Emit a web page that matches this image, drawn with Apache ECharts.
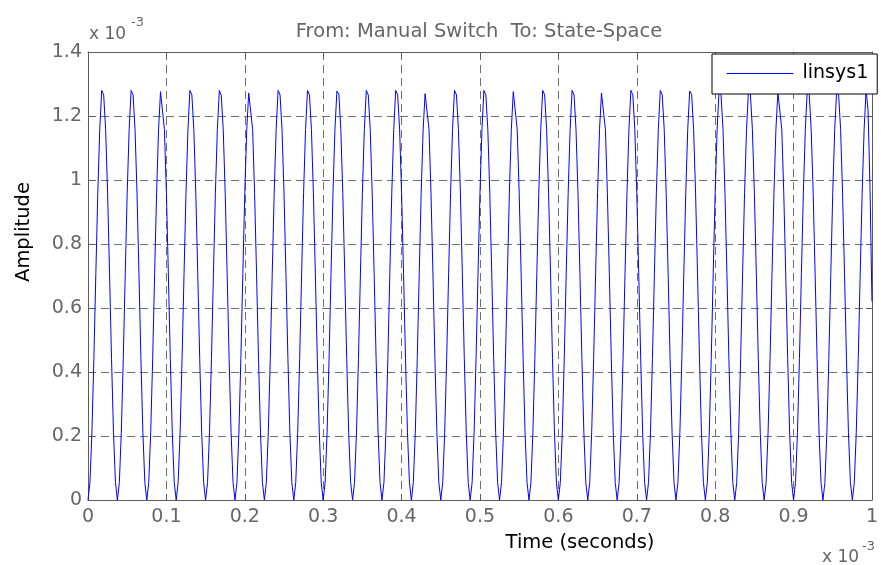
<!DOCTYPE html>
<html>
<head>
<meta charset="utf-8">
<title>From: Manual Switch To: State-Space</title>
<script src="https://cdn.jsdelivr.net/npm/echarts@6/dist/echarts.min.js"></script>
<style>
  html, body { margin: 0; padding: 0; background: #fff; }
  #chart { width: 881px; height: 565px; }
</style>
</head>
<body>
<div id="chart"></div>
<script>
// time axis in microseconds (labels shown as x 10^-3 s)
const timeUs = [
  0,2.5,5,7.5,10,12.5,15,17.5,20,22.5,25,27.5,30,32.5,35,37.5,40,42.5,45,47.5,
  50,52.5,55,57.5,60,62.5,65,67.5,70,72.5,75,77.5,80,82.5,85,87.5,90,92.5,95,97.5,
  100,102.5,105,107.5,110,112.5,115,117.5,120,122.5,125,127.5,130,132.5,135,137.5,140,142.5,145,147.5,
  150,152.5,155,157.5,160,162.5,165,167.5,170,172.5,175,177.5,180,182.5,185,187.5,190,192.5,195,197.5,
  200,202.5,205,207.5,210,212.5,215,217.5,220,222.5,225,227.5,230,232.5,235,237.5,240,242.5,245,247.5,
  250,252.5,255,257.5,260,262.5,265,267.5,270,272.5,275,277.5,280,282.5,285,287.5,290,292.5,295,297.5,
  300,302.5,305,307.5,310,312.5,315,317.5,320,322.5,325,327.5,330,332.5,335,337.5,340,342.5,345,347.5,
  350,352.5,355,357.5,360,362.5,365,367.5,370,372.5,375,377.5,380,382.5,385,387.5,390,392.5,395,397.5,
  400,402.5,405,407.5,410,412.5,415,417.5,420,422.5,425,427.5,430,432.5,435,437.5,440,442.5,445,447.5,
  450,452.5,455,457.5,460,462.5,465,467.5,470,472.5,475,477.5,480,482.5,485,487.5,490,492.5,495,497.5,
  500,502.5,505,507.5,510,512.5,515,517.5,520,522.5,525,527.5,530,532.5,535,537.5,540,542.5,545,547.5,
  550,552.5,555,557.5,560,562.5,565,567.5,570,572.5,575,577.5,580,582.5,585,587.5,590,592.5,595,597.5,
  600,602.5,605,607.5,610,612.5,615,617.5,620,622.5,625,627.5,630,632.5,635,637.5,640,642.5,645,647.5,
  650,652.5,655,657.5,660,662.5,665,667.5,670,672.5,675,677.5,680,682.5,685,687.5,690,692.5,695,697.5,
  700,702.5,705,707.5,710,712.5,715,717.5,720,722.5,725,727.5,730,732.5,735,737.5,740,742.5,745,747.5,
  750,752.5,755,757.5,760,762.5,765,767.5,770,772.5,775,777.5,780,782.5,785,787.5,790,792.5,795,797.5,
  800,802.5,805,807.5,810,812.5,815,817.5,820,822.5,825,827.5,830,832.5,835,837.5,840,842.5,845,847.5,
  850,852.5,855,857.5,860,862.5,865,867.5,870,872.5,875,877.5,880,882.5,885,887.5,890,892.5,895,897.5,
  900,902.5,905,907.5,910,912.5,915,917.5,920,922.5,925,927.5,930,932.5,935,937.5,940,942.5,945,947.5,
  950,952.5,955,957.5,960,962.5,965,967.5,970,972.5,975,977.5,980,982.5,985,987.5,990,992.5,995,997.5,
  1000
];

// amplitude in units of 1e-3, one cycle per row
const amplitude = [
  0,0.055,0.212,0.442,0.707,0.96,1.158,1.28,1.266,1.158,0.96,0.707,0.442,0.212,0.055,
  0,0.055,0.212,0.442,0.707,0.96,1.158,1.28,1.266,1.158,0.96,0.707,0.442,0.212,0.055,
  0,0.055,0.212,0.442,0.707,0.96,1.158,1.276,1.27,1.158,0.96,0.707,0.442,0.212,0.055,
  0,0.055,0.212,0.442,0.707,0.96,1.158,1.28,1.266,1.158,0.96,0.707,0.442,0.212,0.055,
  0,0.055,0.212,0.442,0.707,0.96,1.158,1.28,1.264,1.158,0.96,0.707,0.442,0.212,0.055,
  0,0.055,0.212,0.442,0.707,0.96,1.158,1.272,1.274,1.158,0.96,0.707,0.442,0.212,0.055,
  0,0.055,0.212,0.442,0.707,0.96,1.158,1.28,1.266,1.158,0.96,0.707,0.442,0.212,0.055,
  0,0.055,0.212,0.442,0.707,0.96,1.158,1.28,1.266,1.158,0.96,0.707,0.442,0.212,0.055,
  0,0.055,0.212,0.442,0.707,0.96,1.158,1.278,1.268,1.158,0.96,0.707,0.442,0.212,0.055,
  0,0.055,0.212,0.442,0.707,0.96,1.158,1.28,1.266,1.158,0.96,0.707,0.442,0.212,0.055,
  0,0.055,0.212,0.442,0.707,0.96,1.158,1.28,1.266,1.158,0.96,0.707,0.442,0.212,0.055,
  0,0.055,0.212,0.442,0.707,0.96,1.158,1.27,1.27,1.158,0.96,0.707,0.442,0.212,0.055,
  0,0.055,0.212,0.442,0.707,0.96,1.158,1.28,1.266,1.158,0.96,0.707,0.442,0.212,0.055,
  0,0.055,0.212,0.442,0.707,0.96,1.158,1.28,1.266,1.158,0.96,0.707,0.442,0.212,0.055,
  0,0.055,0.212,0.442,0.707,0.96,1.158,1.276,1.27,1.158,0.96,0.707,0.442,0.212,0.055,
  0,0.055,0.212,0.442,0.707,0.96,1.158,1.28,1.266,1.158,0.96,0.707,0.442,0.212,0.055,
  0,0.055,0.212,0.442,0.707,0.96,1.158,1.28,1.266,1.158,0.96,0.707,0.442,0.212,0.055,
  0,0.055,0.212,0.442,0.707,0.96,1.158,1.272,1.274,1.158,0.96,0.707,0.442,0.212,0.055,
  0,0.055,0.212,0.442,0.707,0.96,1.158,1.28,1.266,1.158,0.96,0.707,0.442,0.212,0.055,
  0,0.055,0.212,0.442,0.707,0.96,1.158,1.28,1.266,1.158,0.96,0.707,0.442,0.212,0.055,
  0,0.055,0.212,0.442,0.707,0.96,1.158,1.278,1.268,1.158,0.96,0.707,0.442,0.212,0.055,
  0,0.055,0.212,0.442,0.707,0.96,1.158,1.28,1.266,1.158,0.96,0.707,0.442,0.212,0.055,
  0,0.055,0.212,0.442,0.707,0.96,1.158,1.28,1.266,1.158,0.96,0.707,0.442,0.212,0.055,
  0,0.055,0.212,0.442,0.707,0.96,1.158,1.274,1.272,1.158,0.96,0.707,0.442,0.212,0.055,
  0,0.055,0.212,0.442,0.707,0.96,1.158,1.28,1.266,1.158,0.96,0.707,0.442,0.212,0.055,
  0,0.055,0.212,0.442,0.707,0.96,1.158,1.28,1.266,1.158,0.96,0.707,0.442,0.212,0.055,
  0,0.055,0.212,0.442,0.707,0.96,1.158,1.28,1.22,0.98,0.62
];

const xTickLabels = ['0','0.1','0.2','0.3','0.4','0.5','0.6','0.7','0.8','0.9','1'];
const yTickLabels = ['0','0.2','0.4','0.6','0.8','1','1.2','1.4'];
const seriesName = 'linsys1';
const titleText = 'From: Manual Switch  To: State-Space';
const xName = 'Time (seconds)';
const yName = 'Amplitude';

const FONT = '"DejaVu Sans", "Liberation Sans", Arial, sans-serif';
const AXIS = '#5c5c5c';
const LABEL = '#666666';
const GRID = '#707070';

const chart = echarts.init(document.getElementById('chart'), null, { renderer: 'canvas' });

const boxAxis = (extra) => Object.assign({
  type: 'value',
  axisLine: { show: true, onZero: false, lineStyle: { color: AXIS, width: 1 } },
  axisTick: { show: true, inside: true, length: 6, lineStyle: { color: AXIS } },
  axisLabel: { show: false },
  splitLine: { show: false },
}, extra);

const option = {
  animation: false,
  backgroundColor: '#fff',
  grid: { left: 88, right: 4, top: 52, bottom: 65 },
  legend: {
    data: [seriesName],
    left: 712, top: 54,
    padding: [10, 9, 11, 14],
    itemWidth: 67, itemHeight: 19,
    backgroundColor: '#fff',
    borderColor: '#000', borderWidth: 1,
    // hide the symbol, keep only the line sample
    itemStyle: { opacity: 0 },
    lineStyle: { color: '#0000ff', width: 1 },
    textStyle: { color: '#000', fontSize: 19, fontFamily: FONT, padding: [0, 0, 0, 4] },
  },
  xAxis: [
    boxAxis({
      min: 0, max: 1000, interval: 100, position: 'bottom',
      axisLabel: { show: true, color: LABEL, fontSize: 19, fontFamily: FONT, margin: 8,
        formatter: (v) => xTickLabels[Math.round(v / 100)] },
      splitLine: { show: true, lineStyle: { color: GRID, width: 1, type: [8, 5] } },
    }),
    boxAxis({ min: 0, max: 1000, interval: 100, position: 'top' }),
  ],
  yAxis: [
    boxAxis({
      min: 0, max: 1.4, interval: 0.2, position: 'left',
      axisLabel: { show: true, color: LABEL, fontSize: 19, fontFamily: FONT, margin: 6,
        formatter: (v) => yTickLabels[Math.round(v / 0.2)] },
      splitLine: { show: true, lineStyle: { color: GRID, width: 1, type: [8, 5] } },
    }),
    boxAxis({ min: 0, max: 1.4, interval: 0.2, position: 'right' }),
  ],
  series: [{
    name: seriesName,
    type: 'line',
    xAxisIndex: 0, yAxisIndex: 0,
    symbol: 'none',
    color: '#0000ff',
    lineStyle: { color: '#0000ff', width: 1 },
    data: timeUs.map((t, i) => [t, amplitude[i]]),
  }],
  graphic: [
    { type: 'text', x: 479, y: 32,
      style: { text: titleText, fill: LABEL, font: '19.5px ' + FONT, textAlign: 'center', textVerticalAlign: 'middle' } },
    { type: 'text', x: 24, y: 232, rotation: Math.PI / 2,
      style: { text: yName, fill: '#000', font: '19.5px ' + FONT, textAlign: 'center', textVerticalAlign: 'middle' } },
    { type: 'text', x: 580, y: 543,
      style: { text: xName, fill: '#000', font: '19.5px ' + FONT, textAlign: 'center', textVerticalAlign: 'middle' } },
    // exponent for y axis
    { type: 'text', x: 89, y: 35,
      style: { text: 'x 10', fill: LABEL, font: '17px ' + FONT, textAlign: 'left', textVerticalAlign: 'middle' } },
    { type: 'text', x: 131, y: 23,
      style: { text: '-3', fill: LABEL, font: '13px ' + FONT, textAlign: 'left', textVerticalAlign: 'middle' } },
    // exponent for x axis
    { type: 'text', x: 822, y: 558,
      style: { text: 'x 10', fill: LABEL, font: '17px ' + FONT, textAlign: 'left', textVerticalAlign: 'middle' } },
    { type: 'text', x: 862, y: 547,
      style: { text: '-3', fill: LABEL, font: '13px ' + FONT, textAlign: 'left', textVerticalAlign: 'middle' } },
  ],
};

chart.setOption(option);
</script>
</body>
</html>
